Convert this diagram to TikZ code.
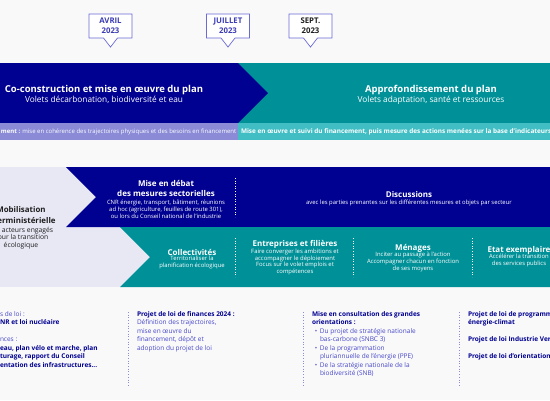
\documentclass[tikz,border=0pt]{standalone}
\usepackage{fontspec}
\setmainfont{Open Sans}
\definecolor{bleu}{RGB}{0,0,145}
\definecolor{tealc}{RGB}{0,145,152}
\definecolor{lavstrip}{RGB}{138,138,215}
\definecolor{tealstrip}{RGB}{64,190,196}
\definecolor{lavbg}{RGB}{232,232,245}
\definecolor{bgc}{RGB}{249,249,250}
\definecolor{callb}{RGB}{107,107,214}
\definecolor{calltxt}{RGB}{60,60,180}
\definecolor{bleuclair}{RGB}{70,70,200}
\definecolor{sombre}{RGB}{30,30,30}
\definecolor{sep}{RGB}{140,140,215}
\newcommand\myfs[2]{\fontsize{#1}{#2}\selectfont}
\tikzset{
  every node/.style={inner sep=0pt, outer sep=0pt},
  callout/.style={draw=callb, fill=white, line width=0.7pt},
  calltext/.style={font=\myfs{7.8}{10}\bfseries, text=calltxt, align=center},
  titre/.style={font=\myfs{9.5}{10}\bfseries, text=white},
  soustitre/.style={font=\myfs{8.3}{10}, text=white},
  striptxt/.style={font=\myfs{6}{7}, text=white},
  stripbold/.style={font=\myfs{6.4}{7}\bfseries, text=white},
  htitle/.style={font=\myfs{8}{10}\bfseries, text=white, align=center},
  hsmall/.style={font=\myfs{5.9}{7}, text=white, align=center},
  hsmallb/.style={font=\myfs{5.9}{6.8}, text=white, align=center},
  wdots/.style={draw=white, dotted, line width=0.6pt},
  bdots/.style={draw=sep, dotted, line width=0.7pt},
  basetxt/.style={font=\myfs{6.5}{8.5}, text=bleuclair, align=left},
  leftbold/.style={font=\myfs{7.9}{11.5}\bfseries, text=sombre, align=center},
  leftreg/.style={font=\myfs{6.8}{7.6}, text=sombre, align=center},
}
\newcommand\bb[1]{{\bfseries\color{bleu}#1}}
\begin{document}
\begin{tikzpicture}[x=1pt,y=-1pt]
\useasboundingbox (0,0) rectangle (550,400);
\clip (0,0) rectangle (550,400);
\fill[bgc] (0,0) rectangle (550,400);

% callouts
\foreach \cx/\m/\nm/\col in {110.5/AVRIL/ca/calltxt, 228/JUILLET/cb/calltxt, 310.5/SEPT./cc/sombre}{
  \draw[callout] (\cx-21.5,14) -- (\cx+21.5,14) -- (\cx+21.5,38) -- (\cx+7,38) -- (\cx,47) -- (\cx-7,38) -- (\cx-21.5,38) -- cycle;
  \node[calltext, text=\col] (\nm) at (\cx,26) {\m\\2023};
}

% top band
\fill[tealc] (230,63) rectangle (550,123);
\fill[bleu] (0,63) -- (238,63) -- (268,93) -- (238,123) -- (0,123) -- cycle;
\fill[lavstrip] (0,123) rectangle (238,140);
\fill[tealstrip] (238,123) rectangle (550,140);
\node[titre, anchor=base] (t1) at (104,92.5) {Co-construction et mise en œuvre du plan};
\node[soustitre, anchor=base] (st1) at (104,102) {Volets décarbonation, biodiversité et eau};
\node[titre, anchor=base] (t2) at (431,92.5) {Approfondissement du plan};
\node[soustitre, anchor=base] (st2) at (431,102) {Volets adaptation, santé et ressources};
\node[striptxt, anchor=base west] (s1) at (1,133.5) {\textbf{ment :} mise en cohérence des trajectoires physiques et des besoins en financement};
\node[stripbold, anchor=base west] (s2) at (241,133.5) {Mise en œuvre et suivi du financement, puis mesure des actions menées sur la base d'indicateurs};

% middle section
\fill[lavbg] (0,167) rectangle (550,287);
\fill[bleu] (66,167) -- (550,167) -- (550,227) -- (66,227) -- (96,197) -- cycle;
\fill[tealc] (120,227) -- (550,227) -- (550,287) -- (120,287) -- (150,257) -- cycle;
\draw[wdots] (235,178) -- (235,217);
\draw[wdots] (235,238) -- (235,277);
\draw[wdots] (353,238) -- (353,277);
\draw[wdots] (472,238) -- (472,277);

\node[leftbold] (mob) at (21,215) {Mobilisation\\interministérielle};
\node[leftreg] (mobs) at (21,238) {des acteurs engagés\\pour la transition\\écologique};

\node[htitle] (deb) at (166,188) {Mise en débat\\des mesures sectorielles};
\node[hsmall] (debs) at (166,209) {CNR énergie, transport, bâtiment, réunions\\ad hoc (agriculture, feuilles de route 301),\\ou lors du Conseil national de l'industrie};
\node[htitle] (disc) at (409,194) {Discussions};
\node[hsmall] (discs) at (409,202.5) {avec les parties prenantes sur les différentes mesures et objets par secteur};

\node[htitle] (col) at (192,252) {Collectivités};
\node[hsmall] (cols) at (192,262.5) {Territorialiser la\\planification écologique};
\node[htitle] (ent) at (295,244) {Entreprises et filières};
\node[hsmallb] (ents) at (295,262) {Faire converger les ambitions et\\accompagner le déploiement\\Focus sur le volet emplois et\\compétences};
\node[htitle] (men) at (413,248) {Ménages};
\node[hsmall] (mens) at (413,262) {Inciter au passage à l'action\\Accompagner chacun en fonction\\de ses moyens};
\node[htitle] (etat) at (519,250) {Etat exemplaire};
\node[hsmall] (etats) at (519,260.5) {Accélérer la transition\\des services publics};

% bottom section
\draw[bdots] (128,312) -- (128,386);
\draw[bdots] (303,312) -- (303,386);
\draw[bdots] (459,312) -- (459,386);

\node[basetxt, anchor=north west] (b1) at (0,311.5) {s de loi :\\\bb{NR et loi nucléaire}\\[8.5pt]nces :\\\bb{eau, plan vélo et marche, plan}\\\bb{turage, rapport du Conseil}\\\bb{entation des infrastructures...}};
\node[basetxt, anchor=north west] (b2) at (137,311.5) {\bb{Projet de loi de finances 2024 :}\\Définition des trajectoires,\\mise en œuvre du\\financement, dépôt et\\adoption du projet de loi};
\node[basetxt, anchor=north west] (b3) at (312,311.5) {\bb{Mise en consultation des grandes}\\\bb{orientations :}\\\makebox[8pt][c]{•}Du projet de stratégie nationale\\\hspace*{8pt}bas-carbone (SNBC 3)\\\makebox[8pt][c]{•}De la programmation\\\hspace*{8pt}pluriannuelle de l'énergie (PPE)\\\makebox[8pt][c]{•}De la stratégie nationale de la\\\hspace*{8pt}biodiversité (SNB)};
\node[basetxt, anchor=north west] (b4) at (468,311.5) {\bb{Projet de loi de programmation}\\\bb{énergie-climat}\\[8.5pt]\bb{Projet de loi Industrie Verte}\\[8.5pt]\bb{Projet de loi d'orientation agricole}};
\end{tikzpicture}
\end{document}
